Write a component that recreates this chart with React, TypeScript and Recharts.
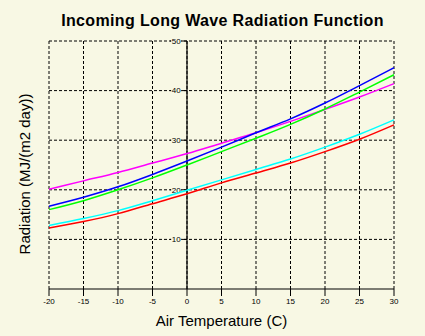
import React from 'react';
import { LineChart, Line, XAxis, YAxis, CartesianGrid, ReferenceLine } from 'recharts';

const BG = '#F8F8E4';

const TEMPS = [-20, -15, -10, -5, 0, 5, 10, 15, 20, 25, 30];
const MAGENTA = [20.1, 21.8, 23.5, 25.4, 27.3, 29.4, 31.5, 33.8, 36.2, 38.7, 41.4];
const BLUE = [16.7, 18.5, 20.6, 23.1, 25.8, 28.6, 31.5, 34.3, 37.5, 41.0, 44.6];
const GREEN = [16.0, 17.8, 20.0, 22.4, 25.0, 27.7, 30.4, 33.2, 36.3, 39.7, 43.2];
const CYAN = [12.8, 14.2, 15.8, 17.8, 19.9, 22.0, 24.1, 26.2, 28.6, 31.2, 34.1];
const RED = [12.3, 13.6, 15.2, 17.2, 19.2, 21.4, 23.4, 25.4, 27.7, 30.2, 33.1];
const Y_TICKS = [0, 10, 20, 30, 40, 50];
const Y_LABELS = [10, 20, 30, 40, 50];

const data = TEMPS.map((t, i) => ({
  t,
  magenta: MAGENTA[i],
  blue: BLUE[i],
  green: GREEN[i],
  cyan: CYAN[i],
  red: RED[i],
}));

const SERIES = [
  { key: 'magenta', color: '#FF00FF' },
  { key: 'blue', color: '#0000FF' },
  { key: 'green', color: '#00FF00' },
  { key: 'cyan', color: '#00FFFF' },
  { key: 'red', color: '#FF0000' },
];

// small value label sitting on the left part of the tick line
const TickLabel = (props: any) => {
  const vb = props.viewBox || {};
  const cx = vb.x + vb.width * 0.36;
  const y = vb.y;
  return (
    <g>
      <rect x={cx - 5} y={y - 4} width={10} height={8} fill={BG} />
      <text x={cx} y={y} dy="0.35em" textAnchor="middle" fontSize={8} fill="#000">
        {props.text}
      </text>
    </g>
  );
};

export default function App() {
  return (
    <div
      style={{
        position: 'fixed',
        left: 0,
        top: 0,
        width: 425,
        height: 336,
        background: BG,
        fontFamily: '"Liberation Sans", Arial, sans-serif',
      }}
    >
      <div
        style={{
          position: 'absolute',
          top: 12,
          left: 0,
          width: 445,
          textAlign: 'center',
          fontSize: 16,
          lineHeight: '18px',
          fontWeight: 'bold',
          letterSpacing: 0.35,
          color: '#000',
        }}
      >
        Incoming Long Wave Radiation Function
      </div>
      <LineChart width={425} height={336} data={data} margin={{ top: 41, right: 31, bottom: 7, left: 0 }}>
        <CartesianGrid stroke="#000" strokeDasharray="3 2" fill="none" horizontal={false} />
        <XAxis
          dataKey="t"
          type="number"
          domain={[-20, 30]}
          ticks={TEMPS}
          interval={0}
          height={40}
          tickSize={7}
          tickMargin={2}
          axisLine={{ stroke: '#000' }}
          tickLine={{ stroke: '#000' }}
          tick={{ fontSize: 8, fill: '#000' }}
          label={{ value: 'Air Temperature (C)', position: 'insideBottom', offset: 3, fontSize: 15, fill: '#000' }}
        />
        <YAxis
          type="number"
          domain={[0, 50]}
          ticks={Y_TICKS}
          width={49}
          axisLine={false}
          tickLine={false}
          tick={false}
          label={{
            value: 'Radiation (MJ/(m2 day))',
            angle: -90,
            position: 'insideLeft',
            offset: 25,
            dy: 9,
            fontSize: 15,
            fill: '#000',
            style: { textAnchor: 'middle' },
          }}
        />
        {Y_LABELS.map((v) => (
          <ReferenceLine key={`g${v}`} y={v} stroke="#000" strokeDasharray="3 2" />
        ))}
        <ReferenceLine x={0} stroke="#000" strokeWidth={1.2} />
        {Y_LABELS.map((v) => (
          <ReferenceLine
            key={v}
            segment={[{ x: -2.45, y: v }, { x: 0, y: v }]}
            stroke="#000"
            label={{ content: (p: any) => <TickLabel {...p} text={String(v)} /> }}
          />
        ))}
        {SERIES.map((s) => (
          <Line
            key={s.key}
            dataKey={s.key}
            type="monotone"
            stroke={s.color}
            strokeWidth={1.5}
            dot={false}
            isAnimationActive={false}
          />
        ))}
      </LineChart>
    </div>
  );
}
